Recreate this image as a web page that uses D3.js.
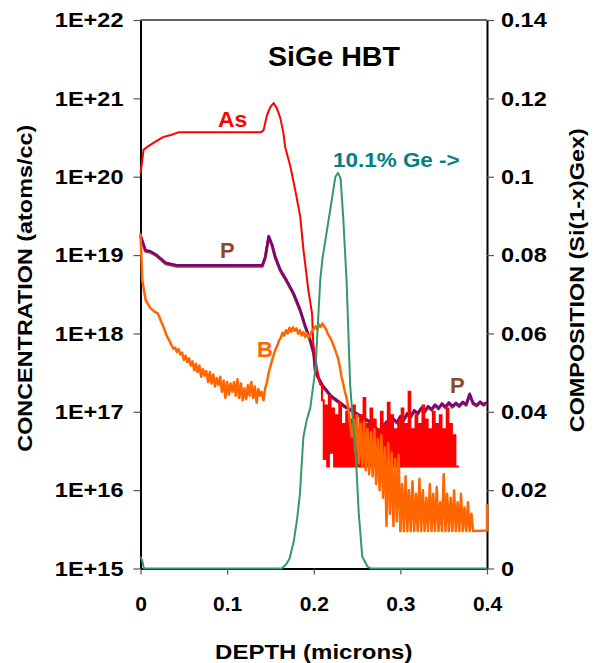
<!DOCTYPE html>
<html>
<head>
<meta charset="utf-8">
<script src="https://cdn.jsdelivr.net/npm/d3@7"></script>
<style>
  body { margin: 0; background: #fff; overflow: hidden; }
  svg { display: block; font-family: "Liberation Sans", Arial, sans-serif; font-weight: bold; }
</style>
</head>
<body>
<svg id="chart" width="600" height="663"></svg>
<script>
// SIMS depth profile of a SiGe HBT: dopants on a log axis, Ge fraction on the right

// ---- data ----
// As (atoms/cc): smooth part as [depth, conc], noisy tail sampled every 0.002 um (x1e16)
const asPoints = [
  [0, 1.1e20], [0.002, 1.6e20], [0.0035, 2.2e20], [0.0077, 2.4e20], [0.0173, 2.8e20],
  [0.026, 3.2e20], [0.035, 3.4e20], [0.044, 3.7e20], [0.139, 3.7e20], [0.142, 3.9e20],
  [0.146, 6.1e20], [0.15, 7.8e20], [0.1537, 8.7e20], [0.1576, 7.4e20], [0.1614, 5.6e20],
  [0.165, 3.6e20], [0.167, 2.4e20], [0.17, 1.8e20], [0.173, 1.35e20], [0.1787, 6.7e19],
  [0.1844, 3.1e19], [0.188, 1.2e19], [0.19, 7.9e18], [0.1937, 3.6e18], [0.198, 1.8e18],
  [0.1994, 7.5e17], [0.2037, 3.6e17], [0.2075, 2.2e17]
];
const AS_NOISE_START = 0.2075;
const asNoise = [
  22, 14, 2.5, 12, 2, 16, 3, 11, 2, 9, 2, 13, 2, 7, 2, 10, 2, 8, 2, 12, 2,
  6, 2, 9, 2, 15, 2, 7, 2, 11, 2, 8, 2, 6, 2, 10, 2, 7, 2, 13, 2,
  9, 2, 6, 2, 8, 2, 11, 2, 7, 2, 18, 2, 6, 2, 9, 2, 7, 2, 12, 2,
  8, 2, 6, 2, 10, 2, 7, 2, 9, 2, 6, 2, 11, 2, 7, 2, 5, 2, 2, 2
];

// B (atoms/cc): start points, then samples every 0.002 um from 0.022 (x1e17), then end
const bStart = [[0, 1.9e19], [0.002, 4.8e18], [0.006, 2.65e18], [0.0115, 2.1e18], [0.016, 1.9e18], [0.02, 1.8e18]];
const B_NOISE_START = 0.022;
const bNoise = [
  16, 14, 12.5, 11, 9.5, 8.6, 7.8, 7.0, 6.4, 6.6,
  5.8, 6.3, 5.4, 5.7, 4.6, 5.2, 4.3, 4.8, 3.9, 4.4,
  3.4, 4.1, 3.2, 3.9, 2.8, 3.5, 2.9, 3.3, 2.4, 3.2,
  2.3, 3.0, 2.1, 2.7, 2.2, 2.8, 1.8, 2.5, 1.5, 2.4,
  1.65, 2.3, 1.8, 2.4, 1.6, 2.6, 1.5, 2.3, 1.4, 2.0,
  1.45, 2.2, 1.6, 2.4, 1.5, 2.1, 1.3, 1.95, 1.6, 1.8,
  1.4, 2.0, 2.4, 3.2, 3.8, 4.6, 5.4, 6.3, 7.0, 8.2,
  8.8, 10.2, 9.4, 11.0, 10.0, 11.8, 10.5, 12.0, 10.8, 11.6,
  9.9, 11.0, 9.4, 10.4, 9.0, 10.1, 8.8, 9.6, 10.8, 11.5,
  12.3, 11.2, 13.0, 12.1, 13.4, 12.2, 11.5, 10.0, 9.2, 8.4,
  7.4, 6.5, 5.6, 4.9, 3.8, 2.8, 2.3, 1.8, 1.5, 1.1,
  0.7, 0.48,
  0.8, 0.3, 0.9, 0.22, 0.7, 0.2, 0.75, 0.18, 0.6, 0.16,
  0.55, 0.15, 0.6, 0.12, 0.45, 0.1, 0.5, 0.08, 0.35, 0.035,
  0.4, 0.05, 0.3, 0.035, 0.25, 0.04, 0.28, 0.03, 0.12, 0.03,
  0.15, 0.03, 0.1, 0.03, 0.13, 0.03, 0.09, 0.03, 0.14, 0.03,
  0.1, 0.03, 0.08, 0.03, 0.12, 0.03, 0.09, 0.03, 0.11, 0.03,
  0.07, 0.03, 0.16, 0.03, 0.09, 0.03, 0.08, 0.03, 0.1, 0.03,
  0.07, 0.03, 0.09, 0.03, 0.06, 0.03, 0.07, 0.03, 0.05, 0.03,
  0.03
];
const bEnd = [[0.4, 3.05e15], [0.4, 6.6e15]];

// P (atoms/cc)
const pPoints = [
  [0, 1.8e19], [0.0058, 1.15e19], [0.0115, 1.12e19], [0.019, 1.0e19], [0.029, 8.0e18],
  [0.042, 7.4e18], [0.1406, 7.4e18], [0.144, 9.5e18], [0.148, 1.75e19], [0.152, 1.35e19],
  [0.1556, 9.5e18], [0.1614, 6.5e18], [0.169, 4.7e18], [0.1767, 3.25e18], [0.1844, 2.0e18],
  [0.19, 1.27e18], [0.196, 8.2e17], [0.2, 5.6e17], [0.2017, 3.4e17], [0.205, 2.8e17],
  [0.21, 2.2e17], [0.22, 1.6e17], [0.235, 1.2e17], [0.25, 9.5e16], [0.265, 7.5e16],
  [0.276, 5.6e16], [0.28, 6.5e16], [0.284, 7.5e16], [0.288, 6.8e16], [0.292, 8.2e16],
  [0.296, 7.4e16], [0.3, 8.8e16], [0.304, 8.0e16], [0.308, 9.6e16], [0.312, 8.8e16],
  [0.316, 1.05e17], [0.32, 9.6e16], [0.324, 1.12e17], [0.328, 1.02e17], [0.332, 1.18e17],
  [0.336, 1.08e17], [0.34, 1.24e17], [0.344, 1.12e17], [0.348, 1.28e17], [0.352, 1.16e17],
  [0.356, 1.32e17], [0.36, 1.18e17], [0.364, 1.3e17], [0.368, 1.2e17], [0.372, 1.34e17],
  [0.376, 1.25e17], [0.38, 1.7e17], [0.384, 1.3e17], [0.388, 1.22e17], [0.392, 1.35e17],
  [0.396, 1.25e17], [0.4, 1.32e17]
];

// Ge fraction x in Si(1-x)Ge(x), right axis
const gePoints = [
  [0, 0.003], [0.002, 0.002], [0.004, 0], [0.163, 0], [0.168, 0.001], [0.172, 0.0025],
  [0.177, 0.007], [0.181, 0.013], [0.184, 0.019], [0.188, 0.0335], [0.192, 0.038],
  [0.196, 0.041], [0.202, 0.051], [0.2075, 0.0736], [0.21, 0.079], [0.215, 0.086],
  [0.219, 0.0915], [0.225, 0.1], [0.228, 0.101], [0.231, 0.0995], [0.234, 0.0897],
  [0.238, 0.073], [0.242, 0.047], [0.245, 0.038], [0.248, 0.031], [0.252, 0.014],
  [0.256, 0.003], [0.262, 0.0005], [0.266, 0], [0.4, 0]
];

const depthTicks = [0, 0.1, 0.2, 0.3, 0.4];
const concTicks = [1e15, 1e16, 1e17, 1e18, 1e19, 1e20, 1e21, 1e22];
const compTicks = [0, 0.02, 0.04, 0.06, 0.08, 0.1, 0.12, 0.14];
const STEP = 0.002;

// build full series (sample depth = start + i * step)
const asTail = asNoise.map((v, i) => [AS_NOISE_START + i * STEP, v * 1e16]);
const bSeries = bStart
  .concat(bNoise.map((v, i) => [B_NOISE_START + i * STEP, v * 1e17]))
  .concat(bEnd);

// ---- layout ----
const svg = d3.select("#chart");
const margin = { top: 20, right: 113, bottom: 94.5, left: 140.5 };
const innerWidth = 600 - margin.left - margin.right;
const innerHeight = 663 - margin.top - margin.bottom;
const FONT = '"Liberation Sans", Arial, sans-serif';

const g = svg.append("g").attr("transform", `translate(${margin.left},${margin.top})`);

const x = d3.scaleLinear().domain([0, 0.4]).range([0, innerWidth]);
const yConc = d3.scaleLog().domain([1e15, 1e22]).range([innerHeight, 0]);
const yComp = d3.scaleLinear().domain([0, 0.14]).range([innerHeight, 0]);

// the original lettering is a bit wider than Arial; stretch it horizontally
function widen(sel, sx) {
  sel.each(function () {
    const t = d3.select(this);
    const tx = +t.attr("x") || 0;
    const ty = +t.attr("y") || 0;
    t.attr("x", 0).attr("y", 0)
      .attr("transform", `translate(${tx},${ty}) scale(${sx},1)`);
  });
}

// axes
const leftAxis = g.append("g").call(
  d3.axisLeft(yConc).tickValues(concTicks)
    .tickFormat((d) => "1E+" + Math.round(Math.log10(d)))
    .tickSize(7).tickSizeOuter(0).tickPadding(10)
);
const rightAxis = g.append("g").attr("transform", `translate(${innerWidth},0)`).call(
  d3.axisRight(yComp).tickValues(compTicks).tickFormat((d) => d3.format("")(+d.toFixed(2)))
    .tickSize(7).tickSizeOuter(0).tickPadding(7)
);
const bottomAxis = g.append("g").attr("transform", `translate(0,${innerHeight})`).call(
  d3.axisBottom(x).tickValues(depthTicks).tickFormat((d) => d3.format("")(+d.toFixed(1)))
    .tickSize(6).tickSizeOuter(0).tickPadding(22)
);

[leftAxis, rightAxis, bottomAxis].forEach((ax) => {
  ax.attr("font-size", null).attr("font-family", null);
  ax.select(".domain").attr("stroke", "#000").attr("stroke-width", 2);
  ax.selectAll(".tick line").attr("stroke", "#555").attr("stroke-width", 1.2);
  ax.selectAll(".tick text")
    .attr("fill", "#000")
    .style("font-size", "21px")
    .style("font-weight", "bold")
    .style("font-family", FONT);
});
widen(leftAxis.selectAll(".tick text"), 1.12);
widen(rightAxis.selectAll(".tick text"), 1.12);

// top border
g.append("line")
  .attr("x1", 0).attr("x2", innerWidth)
  .attr("y1", 0).attr("y2", 0)
  .attr("stroke", "#333").attr("stroke-width", 1.5);

// ---- lines ----
const concLine = d3.line().x((d) => x(d[0])).y((d) => yConc(d[1]));
const concStep = d3.line().curve(d3.curveStepAfter).x((d) => x(d[0])).y((d) => yConc(d[1]));
const compLine = d3.line().x((d) => x(d[0])).y((d) => yComp(d[1]));

const linesG = g.append("g");

// P: brown trace under the purple one
linesG.append("path").datum(pPoints)
  .attr("d", concLine).attr("fill", "none")
  .attr("transform", "translate(0,1)")
  .attr("stroke", "#8b4a2b").attr("stroke-width", 3).attr("stroke-linejoin", "round");
linesG.append("path").datum(pPoints)
  .attr("d", concLine).attr("fill", "none")
  .attr("stroke", "#800080").attr("stroke-width", 2.5).attr("stroke-linejoin", "round");

// As: smooth part, then the noisy floor region
linesG.append("path").datum(asPoints)
  .attr("d", concLine).attr("fill", "none")
  .attr("stroke", "#ff0000").attr("stroke-width", 2).attr("stroke-linejoin", "round");
linesG.append("path").datum(asTail)
  .attr("d", concStep).attr("fill", "none")
  .attr("stroke", "#ff0000").attr("stroke-width", 2);

linesG.append("path").datum(bSeries)
  .attr("d", concLine).attr("fill", "none")
  .attr("stroke", "#ff6600").attr("stroke-width", 2.5).attr("stroke-linejoin", "round");

linesG.append("path").datum(gePoints)
  .attr("d", compLine).attr("fill", "none")
  .attr("stroke", "#339966").attr("stroke-width", 2).attr("stroke-linejoin", "round");

// ---- labels ----
const notes = [
  { text: "SiGe HBT", depth: 0.2234, conc: 2.59e21, color: "#000", size: 27, sx: 1.06, anchor: "middle" },
  { text: "As", depth: 0.0895, conc: 4.3e20, color: "#ff0000", size: 22, sx: 1.04, anchor: "start" },
  { text: "P", depth: 0.0918, conc: 9.2e18, color: "#8b4a2b", size: 22, sx: 1, anchor: "start" },
  { text: "B", depth: 0.1345, conc: 5.0e17, color: "#ff6600", size: 22, sx: 1, anchor: "start" },
  { text: "P", depth: 0.3573, conc: 1.74e17, color: "#8b4a2b", size: 22, sx: 1, anchor: "start" },
  { text: "10.1% Ge ->", depth: 0.2222, conc: 1.33e20, color: "#008080", size: 21, sx: 1.07, anchor: "start" }
];

g.selectAll("text.note")
  .data(notes)
  .join("text")
  .attr("class", "note")
  .attr("transform", (d) => `translate(${x(d.depth)},${yConc(d.conc)}) scale(${d.sx},1)`)
  .attr("text-anchor", (d) => d.anchor)
  .attr("fill", (d) => d.color)
  .style("font-size", (d) => d.size + "px")
  .text((d) => d.text);

// axis titles
svg.append("text")
  .attr("transform", `translate(32,${margin.top + innerHeight / 2 - 6}) rotate(-90) scale(1.17,1)`)
  .attr("text-anchor", "middle")
  .style("font-size", "20px")
  .text("CONCENTRATION (atoms/cc)");

svg.append("text")
  .attr("transform", `translate(584,${margin.top + innerHeight / 2 - 14}) rotate(-90) scale(1.17,1)`)
  .attr("text-anchor", "middle")
  .style("font-size", "20px")
  .text("COMPOSITION (Si(1-x)Gex)");

svg.append("text")
  .attr("transform", `translate(${margin.left + innerWidth / 2},659) scale(1.2,1)`)
  .attr("text-anchor", "middle")
  .style("font-size", "20px")
  .text("DEPTH (microns)");
</script>
</body>
</html>
